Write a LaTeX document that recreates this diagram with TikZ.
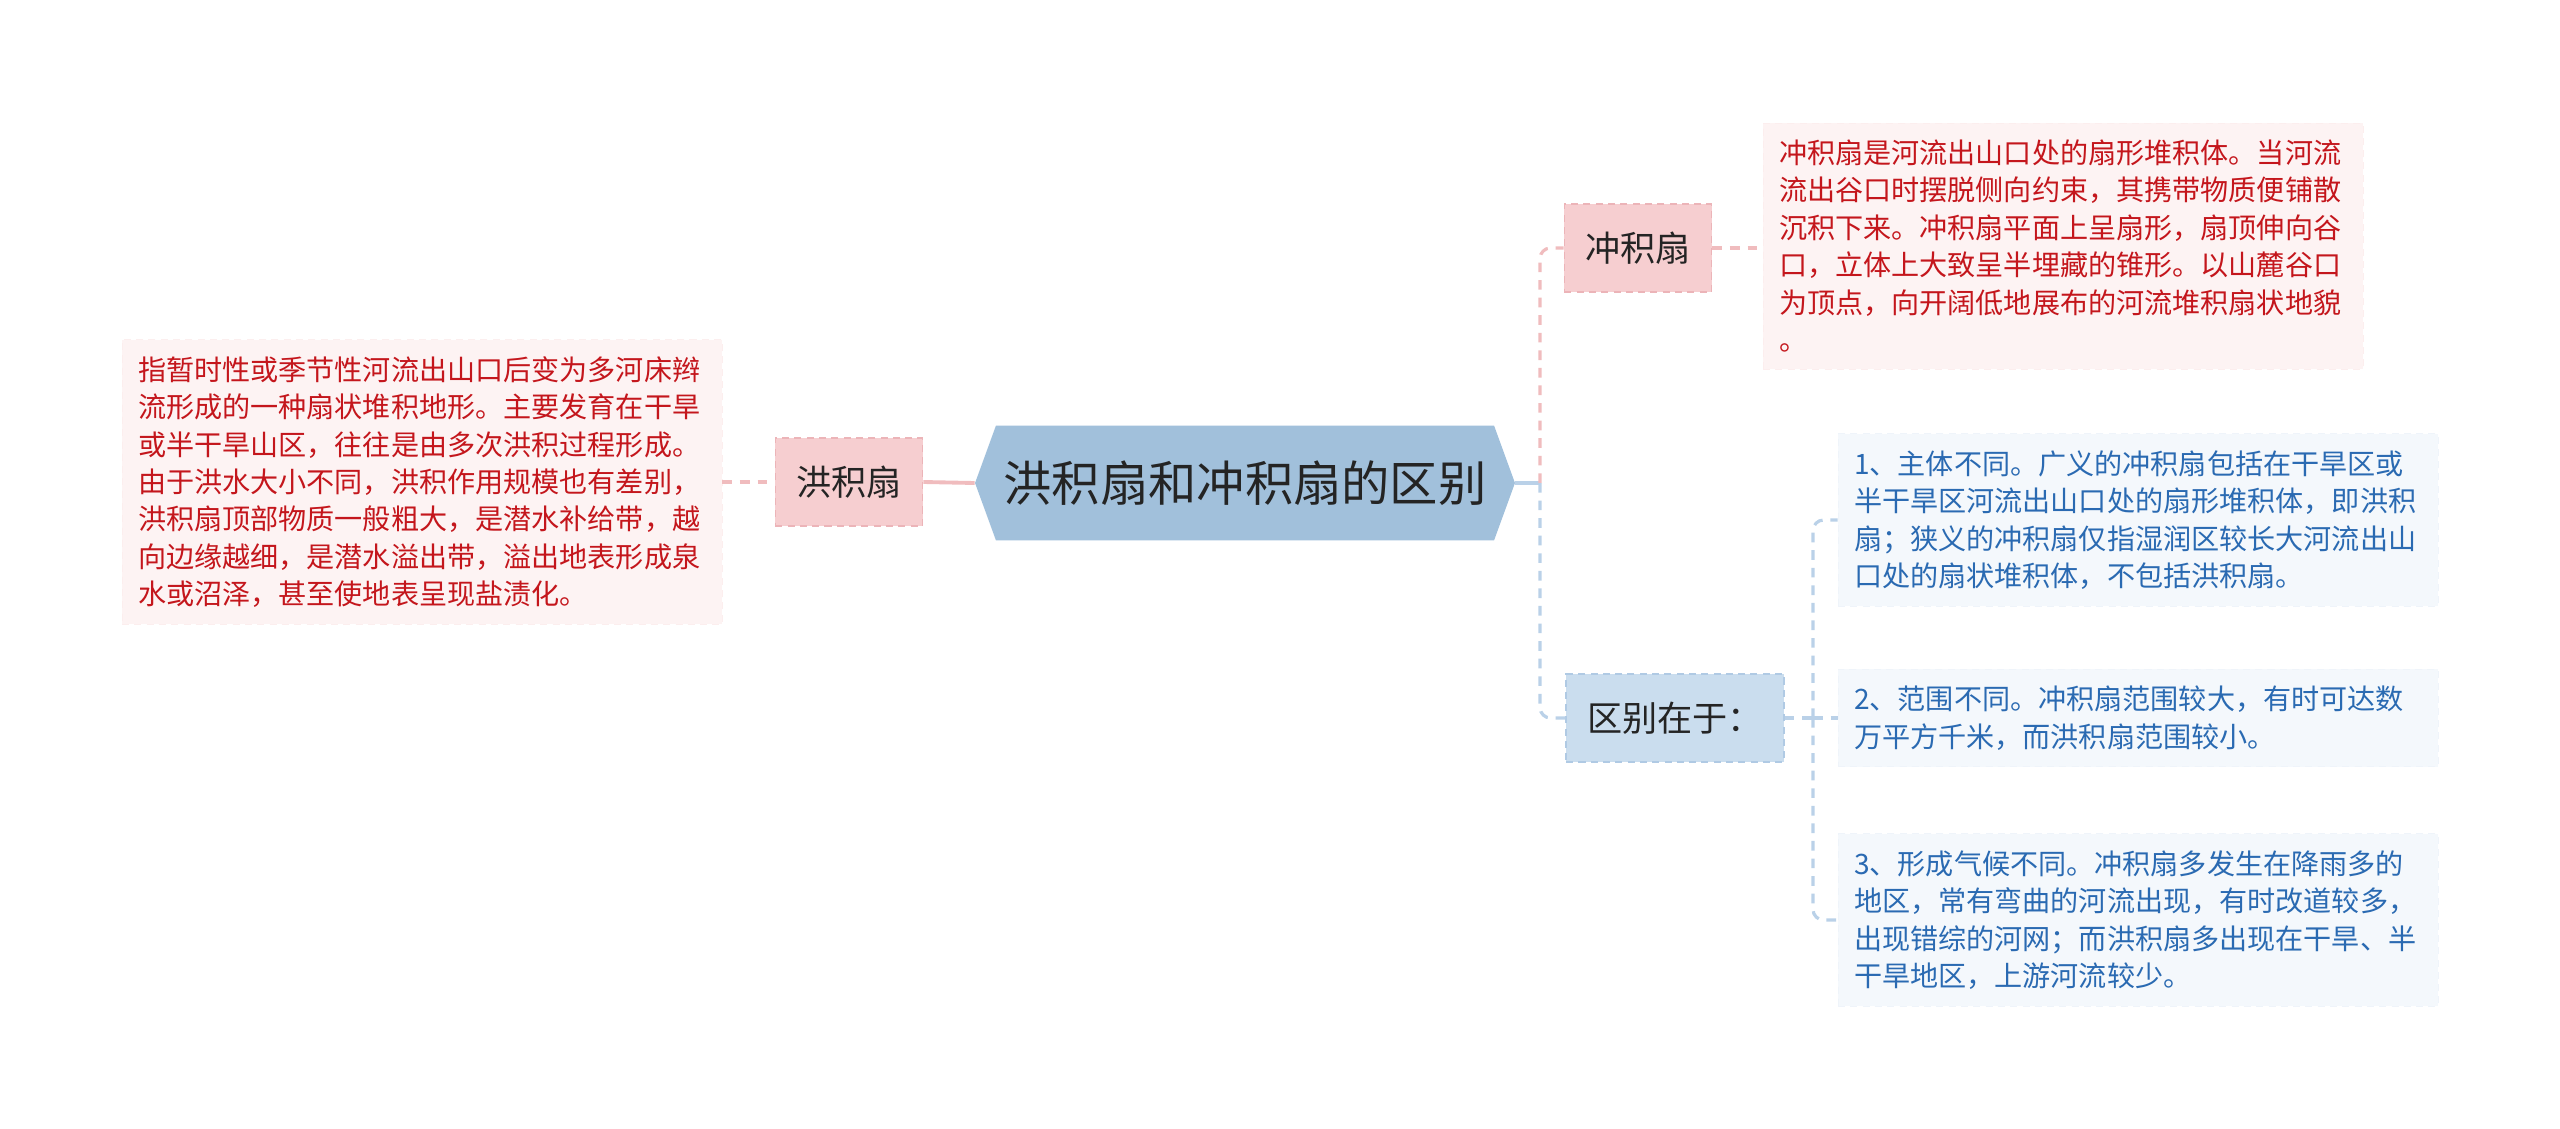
\documentclass[tikz,border=0pt]{standalone}
\usepackage{fontspec}
\setmainfont{Noto Sans CJK SC}
\usetikzlibrary{shapes.symbols}

\definecolor{rootfill}{RGB}{161,192,219}
\definecolor{pinknode}{RGB}{246,206,208}
\definecolor{pinkedge}{RGB}{236,180,184}
\definecolor{pinkbox}{RGB}{253,243,243}
\definecolor{bluenode}{RGB}{202,221,238}
\definecolor{blueedge}{RGB}{176,202,228}
\definecolor{bluebox}{RGB}{244,248,252}
\definecolor{redtext}{RGB}{196,22,28}
\definecolor{bluetext}{RGB}{42,106,178}
\definecolor{darktext}{RGB}{36,36,36}
\definecolor{pinkline}{RGB}{240,188,190}
\definecolor{blueline}{RGB}{186,209,232}

\begin{document}
\begin{tikzpicture}[x=0.02cm, y=-0.02cm]
				\tikzstyle{every node}=[inner sep=0pt, align=left]
				\tikzstyle{root}=[shape=signal, signal to=west and east, signal pointer angle=140, fill=rootfill, minimum width=10.8cm, minimum height=2.3cm, text=darktext, font=\fontsize{27.5}{31}\selectfont]
				\tikzstyle{topic}=[minimum height=1.76cm, inner xsep=0.42cm, text=darktext, dash pattern=on 4pt off 3pt, line width=0.8pt, font=\fontsize{20}{24}\selectfont]
				\tikzstyle{pinktopic}=[topic, fill=pinknode, draw=pinkedge]
				\tikzstyle{bluetopic}=[topic, fill=bluenode, draw=blueedge]
				\tikzstyle{notebox}=[text width=11.36cm, inner xsep=0.32cm, inner ysep=9.5pt, dash pattern=on 4pt off 3pt, line width=0.5pt, font=\fontsize{16}{21.3}\selectfont]
				\tikzstyle{rednote}=[notebox, fill=pinkbox, draw=pinkbox!92!pinkedge, text=redtext]
				\tikzstyle{bluenote}=[notebox, fill=bluebox, draw=bluebox!92!blueedge, text=bluetext]
				\tikzstyle{pinklink}=[draw=pinkline, line width=1.8pt, dash pattern=on 5.5pt off 4.5pt, rounded corners=6pt]
				\tikzstyle{bluelink}=[draw=blueline, line width=1.8pt, dash pattern=on 5.5pt off 4.5pt, rounded corners=6pt]

				\useasboundingbox[fill=white] (0,0) rectangle (2560,1129);

				% centre and left branch
				\node[root] (root) at (1245,483) {洪积扇和冲积扇的区别};
				\node[pinktopic] (hong) at (849,482) {洪积扇};
				\node[rednote] (hongnote) at (422,482) {指暂时性或季节性河流出山口后变为多河床辫\\流形成的一种扇状堆积地形。主要发育在干旱\\或半干旱山区，往往是由多次洪积过程形成。\\由于洪水大小不同，洪积作用规模也有差别，\\洪积扇顶部物质一般粗大，是潜水补给带，越\\向边缘越细，是潜水溢出带，溢出地表形成泉\\水或沼泽，甚至使地表呈现盐渍化。};
				\draw [pinklink] (hongnote.east) -- (hong.west);
				\draw [draw=pinkline, line width=2.2pt] (hong.east) -- (root.west);

				% right branch
				\node[pinktopic] (chong) at (1638,248) {冲积扇};
				\node[rednote] (chongnote) at (2063,246) {冲积扇是河流出山口处的扇形堆积体。当河流\\流出谷口时摆脱侧向约束，其携带物质便铺散\\沉积下来。冲积扇平面上呈扇形，扇顶伸向谷\\口，立体上大致呈半埋藏的锥形。以山麓谷口\\为顶点，向开阔低地展布的河流堆积扇状地貌\\。};
				\node[bluetopic] (diff) at (1675,718) {区别在于：};
				\node[bluenote] (diffa) at (2138,520) {1、主体不同。广义的冲积扇包括在干旱区或\\半干旱区河流出山口处的扇形堆积体，即洪积\\扇；狭义的冲积扇仅指湿润区较长大河流出山\\口处的扇状堆积体，不包括洪积扇。};
				\node[bluenote] (diffb) at (2138,718) {2、范围不同。冲积扇范围较大，有时可达数\\万平方千米，而洪积扇范围较小。};
				\node[bluenote] (diffc) at (2138,920) {3、形成气候不同。冲积扇多发生在降雨多的\\地区，常有弯曲的河流出现，有时改道较多，\\出现错综的河网；而洪积扇多出现在干旱、半\\干旱地区，上游河流较少。};

				\coordinate (rootfork) at (1540,483);
				\coordinate (difffork) at (1813,718);
				\draw [draw=blueline, line width=2.2pt] (root.east) -- (rootfork);
				\draw [pinklink] (rootfork) |- (chong.west);
				\draw [bluelink] (rootfork) |- (diff.west);
				\draw [pinklink] (chong.east) -- (chong.east -| chongnote.west);
				\draw [bluelink] (diff.east) -- (difffork);
				\draw [bluelink] (difffork) |- (diffa.west);
				\draw [bluelink] (difffork) -- (diffb.west);
				\draw [bluelink] (difffork) |- (diffc.west);
		\end{tikzpicture}
\end{document}
